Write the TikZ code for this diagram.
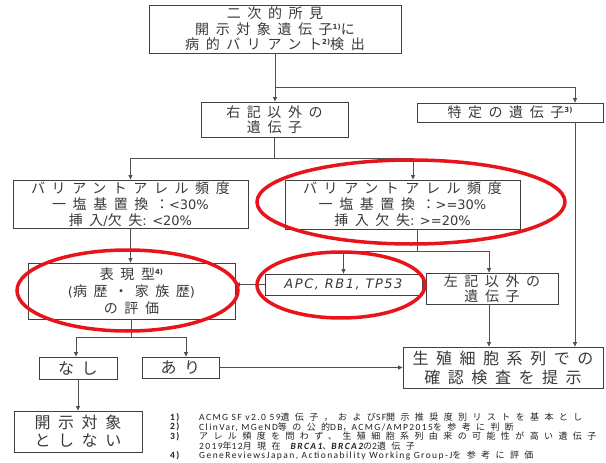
\documentclass[tikz,border=0pt]{standalone}
\usepackage{fontspec}
\usetikzlibrary{arrows.meta}
\newfontfamily\jpf{Noto Sans CJK JP}[LetterSpace=47]
\newfontfamily\jpfoot{Noto Sans CJK JP}[LetterSpace=60]
\newfontfamily\latf{DejaVu Sans}
\newfontfamily\latfoot{Carlito}[LetterSpace=15]
\definecolor{boxc}{HTML}{404040}
\definecolor{linec}{HTML}{505050}
\definecolor{txtc}{HTML}{3A3A3A}
\definecolor{redc}{HTML}{E8141B}
\definecolor{footc}{HTML}{222222}
\newcommand\ltxt[1]{{\latf\fontsize{13}{15}\selectfont #1}}
\newcommand\sups[1]{\raisebox{5pt}{\latf\bfseries\fontsize{7}{7}\selectfont #1}}
\newcommand\fj[1]{{\jpfoot\fontsize{9}{10}\selectfont #1}}
\newcommand\fl[1]{{\latfoot\fontsize{9.5}{10}\selectfont #1}}
\newcommand\fbi[1]{{\latfoot\bfseries\itshape\fontsize{9.5}{10}\selectfont #1}}
\begin{document}
\begin{tikzpicture}[x=1pt,y=-1pt,
  box/.style={draw=boxc, line width=0.8pt, fill=white, inner sep=0pt, align=center, text=txtc},
  jp14/.style={font=\jpf\fontsize{14}{15.5}\selectfont},
  jp16/.style={font=\jpf\fontsize{16}{18}\selectfont},
  conn/.style={draw=linec, line width=0.8pt},
  arr/.style={conn, -{Triangle[length=4.5pt,width=4pt]}},
  redring/.style={draw=redc, line width=3.5pt},
  fnum/.style={anchor=west, inner sep=0pt, text=footc, font=\latfoot\bfseries\fontsize{9.5}{10}\selectfont},
  ftxt/.style={anchor=west, inner sep=0pt, text=footc}]
\useasboundingbox (0,0) rectangle (606,463);
\clip (0,0) rectangle (606,463);
\fill[white] (0,0) rectangle (606,463);

% boxes
\node[box, jp14, minimum width=252pt, minimum height=48pt] (top) at (275,29)
  {二次的所見\\開示対象遺伝子\sups{1)}に\\病的バリアント\sups{2)}検出};
\node[box, jp14, minimum width=147pt, minimum height=35pt] (r1) at (274.5,119.5)
  {右記以外の\\遺伝子};
\node[box, jp14, minimum width=186pt, minimum height=19pt] (tok) at (510,112.5)
  {特定の遺伝子\sups{3)}};
\node[box, jp14, font=\jpf\fontsize{14}{16}\selectfont, minimum width=235pt, minimum height=48pt] (vaf1) at (130.5,204)
  {バリアントアレル頻度\\一塩基置換：\ltxt{<30\%}\\挿入\ltxt{/}欠失\ltxt{: <20\%}};
\node[box, jp14, font=\jpf\fontsize{14}{16}\selectfont, minimum width=235pt, minimum height=49pt] (vaf2) at (402.5,204.5)
  {バリアントアレル頻度\\一塩基置換：\ltxt{>=30\%}\\挿入欠失\ltxt{: >=20\%}};
\node[box, jp14, font=\jpf\fontsize{14}{17}\selectfont, minimum width=207pt, minimum height=56pt] (pheno) at (131.5,291)
  {表現型\sups{4)}\\\ltxt{(}病歴・家族歴\ltxt{)}\\の評価};
\node[box, minimum width=157pt, minimum height=21pt,
  font=\latf\itshape\fontsize{13}{15}\selectfont] (apc) at (343.5,284.5)
  {\addfontfeature{LetterSpace=12}APC, RB1, TP53};
\node[box, jp14, minimum width=132pt, minimum height=31pt] (left2) at (492,288.5)
  {左記以外の\\遺伝子};
\node[box, jp16, minimum width=78pt, minimum height=22pt] (nashi) at (78,368) {なし};
\node[box, jp16, minimum width=77pt, minimum height=21pt] (ari) at (180.5,367.5) {あり};
\node[box, jp16, font=\jpf\fontsize{16}{19}\selectfont, minimum width=200pt, minimum height=41pt] (germ) at (503,367.5)
  {生殖細胞系列での\\確認検査を提示};
\node[box, jp16, minimum width=128pt, minimum height=41pt] (nodisc) at (78,431.5)
  {開示対象\\としない};

% connectors
\draw[arr] (top.south) -- (top.south |- r1.north);
\draw[arr] (top.south |- 0,87) -| ([xshift=65pt]tok.north);
\draw[arr] ([xshift=65pt]tok.south) -- ([xshift=65pt]tok.south |- germ.north);
\draw[conn] (r1.south) -- ++(0,21) coordinate (b1);
\draw[arr] (b1) -| (vaf1.north);
\draw[arr] (b1) -| ([xshift=10.5pt]vaf2.north);
\draw[arr] (vaf1.south) -- (vaf1.south |- pheno.north);
\draw[conn] ([xshift=14.5pt]vaf2.south) -- ++(0,22) coordinate (b2);
\draw[arr] (b2) -| (apc.north);
\draw[arr] (b2) -| ([xshift=-3pt]left2.north);
\draw[arr] (apc.west) -- (apc.west -| pheno.east);
\draw[arr] ([xshift=-3pt]left2.south) -- ([xshift=-3pt]left2.south |- germ.north);
\draw[conn] (pheno.south) -- ++(0,18) coordinate (b3);
\draw[arr] (b3) -| ([xshift=-2pt]nashi.north);
\draw[arr] (b3) -| ([xshift=5.5pt]ari.north);
\draw[arr] (ari.east) -- (ari.east -| germ.west);
\draw[arr] (nashi.south) -- (nashi.south |- nodisc.north);

% red rings
\draw[redring] (411,202) ellipse [x radius=154pt, y radius=42pt];
\draw[redring] (127.5,290.5) ellipse [x radius=110.5pt, y radius=40.5pt];
\draw[redring] (341,285) ellipse [x radius=84pt, y radius=33pt];

% footnotes
\node[fnum] (n1) at (170,417.5) {1)};
\node[fnum] (n2) at (170,427) {2)};
\node[fnum] (n3) at (170,436.5) {3)};
\node[fnum] (n4) at (170,455.5) {4)};
\node[ftxt] (f1) at (199,417.5) {\fl{ACMG SF v2.0 59}\fj{遺伝子，および}\fl{SF}\fj{開示推奨度別リストを基本とし}};
\node[ftxt] (f2) at (199,427) {\fl{ClinVar, MGeND}\fj{等の公的}\fl{DB}\fj{，}\fl{ACMG/AMP2015}\fj{を参考に判断}};
\node[ftxt] (f3) at (199,436.5) {\fj{アレル頻度を問わず、生殖細胞系列由来の可能性が高い遺伝子}};
\node[ftxt] (f4) at (199,446) {\fl{2019}\fj{年}\fl{12}\fj{月現在}\hspace{10pt}\fbi{BRCA1}\fj{、}\fbi{BRCA2}\fj{の}\fl{2}\fj{遺伝子}};
\node[ftxt] (f5) at (199,455.5) {\fl{GeneReviewsJapan, Actionability Working Group-J}\fj{を参考に評価}};
\end{tikzpicture}
\end{document}
